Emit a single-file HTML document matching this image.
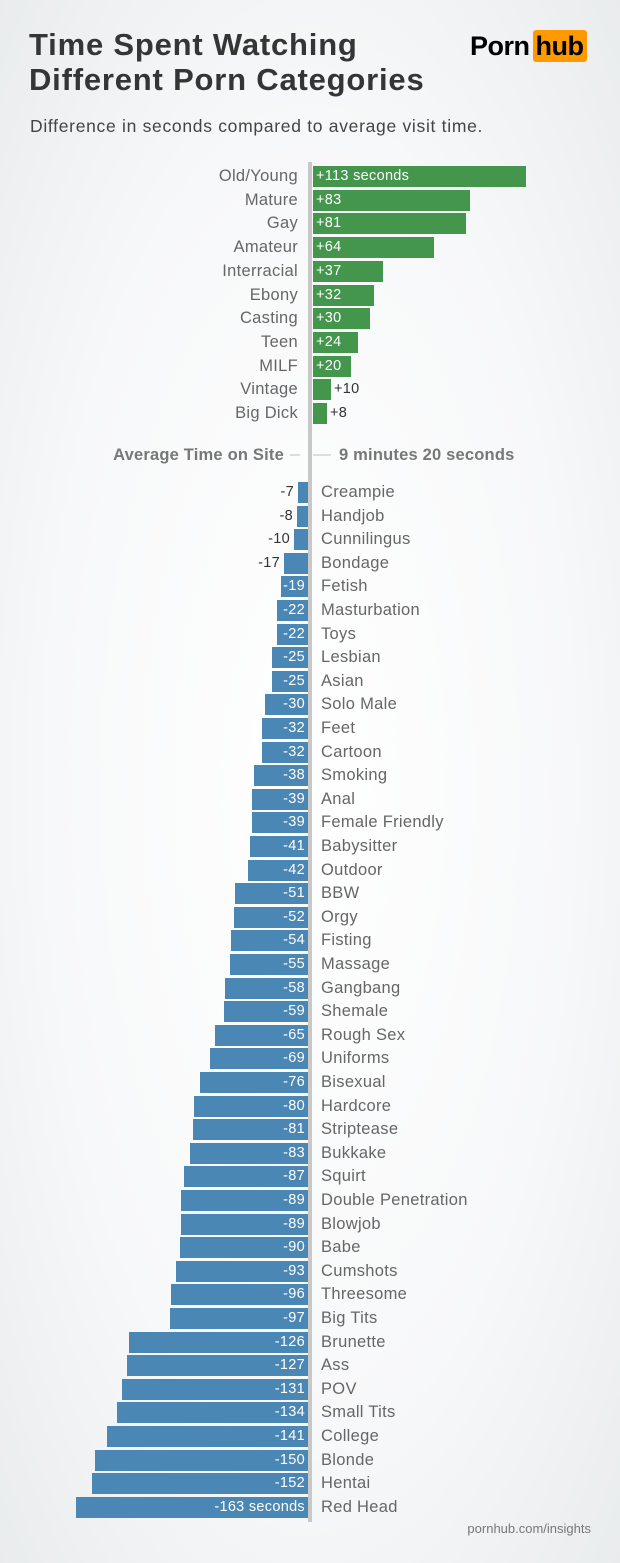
<!DOCTYPE html>
<html><head><meta charset="utf-8"><style>
*{margin:0;padding:0;box-sizing:border-box}
body{width:620px;height:1563px;position:relative;overflow:hidden;font-family:"Liberation Sans",sans-serif;background:radial-gradient(ellipse at 50% 50%,#ffffff 0%,#f7f8f9 60%,#e9eced 100%)}
.t{position:absolute;left:29px;font-weight:bold;font-size:31px;color:#353535;line-height:36px;letter-spacing:0.8px}
.sub{position:absolute;left:30px;top:116px;font-size:17.5px;color:#444;letter-spacing:0.7px}
.logo{position:absolute;left:470px;top:30px;font-weight:bold;font-size:27px;color:#000;line-height:32px;letter-spacing:-0.5px}
.logo span{display:inline-block;background:#ff9900;border-radius:3px;width:54px;text-align:center;margin-left:3px}
.axis{position:absolute;left:308px;top:162px;width:4px;height:1360px;background:#c8c8c8}
.r{position:absolute;left:0;width:620px;height:21px;line-height:21px;font-size:16.5px;letter-spacing:0.3px}
.pl{position:absolute;right:322px;color:#666}
.pb{position:absolute;left:313px;top:0;height:21px;background:#43964c;color:#fff;font-size:14.5px;padding-left:3px;white-space:nowrap}
.po{position:absolute;font-size:14.5px;color:#333}
.nl{position:absolute;left:321px;color:#666}
.nb{position:absolute;right:312px;top:0;height:21px;background:#4b87b4;color:#fff;font-size:14.5px;text-align:right;padding-right:3px;white-space:nowrap}
.no{position:absolute;font-size:14.5px;color:#333;text-align:right}
</style></head><body>
<div class="t" style="top:27px">Time Spent Watching</div>
<div class="t" style="top:62px">Different Porn Categories</div>
<div class="logo">Porn<span>hub</span></div>
<div class="sub">Difference in seconds compared to average visit time.</div>
<div class="axis"></div>

<div class="r" style="top:166px"><div class="pl">Old/Young</div><div class="pb" style="width:213px">+113 seconds</div></div>
<div class="r" style="top:189.7px"><div class="pl">Mature</div><div class="pb" style="width:157px">+83</div></div>
<div class="r" style="top:213.4px"><div class="pl">Gay</div><div class="pb" style="width:153px">+81</div></div>
<div class="r" style="top:237.1px"><div class="pl">Amateur</div><div class="pb" style="width:121px">+64</div></div>
<div class="r" style="top:260.8px"><div class="pl">Interracial</div><div class="pb" style="width:70px">+37</div></div>
<div class="r" style="top:284.5px"><div class="pl">Ebony</div><div class="pb" style="width:61px">+32</div></div>
<div class="r" style="top:308.2px"><div class="pl">Casting</div><div class="pb" style="width:57px">+30</div></div>
<div class="r" style="top:331.9px"><div class="pl">Teen</div><div class="pb" style="width:45px">+24</div></div>
<div class="r" style="top:355.6px"><div class="pl">MILF</div><div class="pb" style="width:38px">+20</div></div>
<div class="r" style="top:379.3px"><div class="pl">Vintage</div><div class="pb" style="width:18px"></div><div class="po" style="left:334px">+10</div></div>
<div class="r" style="top:403px"><div class="pl">Big Dick</div><div class="pb" style="width:14px"></div><div class="po" style="left:330px">+8</div></div>

<div style="position:absolute;left:0;top:445px;width:620px;height:20px;font-weight:bold;font-size:16.5px;color:#777;line-height:20px;letter-spacing:0.2px">
<div style="position:absolute;right:336px">Average Time on Site</div>
<div style="position:absolute;left:290px;top:9px;width:10px;height:2px;background:#ddd"></div>
<div style="position:absolute;left:313px;top:9px;width:18px;height:2px;background:#ddd"></div>
<div style="position:absolute;left:339px">9 minutes 20 seconds</div>
</div>

<div class="r" style="top:482px"><div class="nb" style="width:10px"></div><div class="no" style="right:326px">-7</div><div class="nl">Creampie</div></div>
<div class="r" style="top:505.6px"><div class="nb" style="width:11px"></div><div class="no" style="right:327px">-8</div><div class="nl">Handjob</div></div>
<div class="r" style="top:529.2px"><div class="nb" style="width:14px"></div><div class="no" style="right:330px">-10</div><div class="nl">Cunnilingus</div></div>
<div class="r" style="top:552.8px"><div class="nb" style="width:24px"></div><div class="no" style="right:340px">-17</div><div class="nl">Bondage</div></div>
<div class="r" style="top:576.4px"><div class="nb" style="width:27px">-19</div><div class="nl">Fetish</div></div>
<div class="r" style="top:600px"><div class="nb" style="width:31px">-22</div><div class="nl">Masturbation</div></div>
<div class="r" style="top:623.6px"><div class="nb" style="width:31px">-22</div><div class="nl">Toys</div></div>
<div class="r" style="top:647.2px"><div class="nb" style="width:36px">-25</div><div class="nl">Lesbian</div></div>
<div class="r" style="top:670.8px"><div class="nb" style="width:36px">-25</div><div class="nl">Asian</div></div>
<div class="r" style="top:694.4px"><div class="nb" style="width:43px">-30</div><div class="nl">Solo Male</div></div>
<div class="r" style="top:718px"><div class="nb" style="width:46px">-32</div><div class="nl">Feet</div></div>
<div class="r" style="top:741.6px"><div class="nb" style="width:46px">-32</div><div class="nl">Cartoon</div></div>
<div class="r" style="top:765.2px"><div class="nb" style="width:54px">-38</div><div class="nl">Smoking</div></div>
<div class="r" style="top:788.8px"><div class="nb" style="width:56px">-39</div><div class="nl">Anal</div></div>
<div class="r" style="top:812.4px"><div class="nb" style="width:56px">-39</div><div class="nl">Female Friendly</div></div>
<div class="r" style="top:836px"><div class="nb" style="width:58px">-41</div><div class="nl">Babysitter</div></div>
<div class="r" style="top:859.6px"><div class="nb" style="width:60px">-42</div><div class="nl">Outdoor</div></div>
<div class="r" style="top:883.2px"><div class="nb" style="width:73px">-51</div><div class="nl">BBW</div></div>
<div class="r" style="top:906.8px"><div class="nb" style="width:74px">-52</div><div class="nl">Orgy</div></div>
<div class="r" style="top:930.4px"><div class="nb" style="width:77px">-54</div><div class="nl">Fisting</div></div>
<div class="r" style="top:954px"><div class="nb" style="width:78px">-55</div><div class="nl">Massage</div></div>
<div class="r" style="top:977.6px"><div class="nb" style="width:83px">-58</div><div class="nl">Gangbang</div></div>
<div class="r" style="top:1001.2px"><div class="nb" style="width:84px">-59</div><div class="nl">Shemale</div></div>
<div class="r" style="top:1024.8px"><div class="nb" style="width:93px">-65</div><div class="nl">Rough Sex</div></div>
<div class="r" style="top:1048.4px"><div class="nb" style="width:98px">-69</div><div class="nl">Uniforms</div></div>
<div class="r" style="top:1072px"><div class="nb" style="width:108px">-76</div><div class="nl">Bisexual</div></div>
<div class="r" style="top:1095.6px"><div class="nb" style="width:114px">-80</div><div class="nl">Hardcore</div></div>
<div class="r" style="top:1119.2px"><div class="nb" style="width:115px">-81</div><div class="nl">Striptease</div></div>
<div class="r" style="top:1142.8px"><div class="nb" style="width:118px">-83</div><div class="nl">Bukkake</div></div>
<div class="r" style="top:1166.4px"><div class="nb" style="width:124px">-87</div><div class="nl">Squirt</div></div>
<div class="r" style="top:1190px"><div class="nb" style="width:127px">-89</div><div class="nl">Double Penetration</div></div>
<div class="r" style="top:1213.6px"><div class="nb" style="width:127px">-89</div><div class="nl">Blowjob</div></div>
<div class="r" style="top:1237.2px"><div class="nb" style="width:128px">-90</div><div class="nl">Babe</div></div>
<div class="r" style="top:1260.8px"><div class="nb" style="width:132px">-93</div><div class="nl">Cumshots</div></div>
<div class="r" style="top:1284.4px"><div class="nb" style="width:137px">-96</div><div class="nl">Threesome</div></div>
<div class="r" style="top:1308px"><div class="nb" style="width:138px">-97</div><div class="nl">Big Tits</div></div>
<div class="r" style="top:1331.6px"><div class="nb" style="width:179px">-126</div><div class="nl">Brunette</div></div>
<div class="r" style="top:1355.2px"><div class="nb" style="width:181px">-127</div><div class="nl">Ass</div></div>
<div class="r" style="top:1378.8px"><div class="nb" style="width:186px">-131</div><div class="nl">POV</div></div>
<div class="r" style="top:1402.4px"><div class="nb" style="width:191px">-134</div><div class="nl">Small Tits</div></div>
<div class="r" style="top:1426px"><div class="nb" style="width:201px">-141</div><div class="nl">College</div></div>
<div class="r" style="top:1449.6px"><div class="nb" style="width:213px">-150</div><div class="nl">Blonde</div></div>
<div class="r" style="top:1473.2px"><div class="nb" style="width:216px">-152</div><div class="nl">Hentai</div></div>
<div class="r" style="top:1496.8px"><div class="nb" style="width:232px">-163 seconds</div><div class="nl">Red Head</div></div>

<div style="position:absolute;right:29px;top:1521px;font-size:13px;color:#777">pornhub.com/insights</div>
</body></html>
